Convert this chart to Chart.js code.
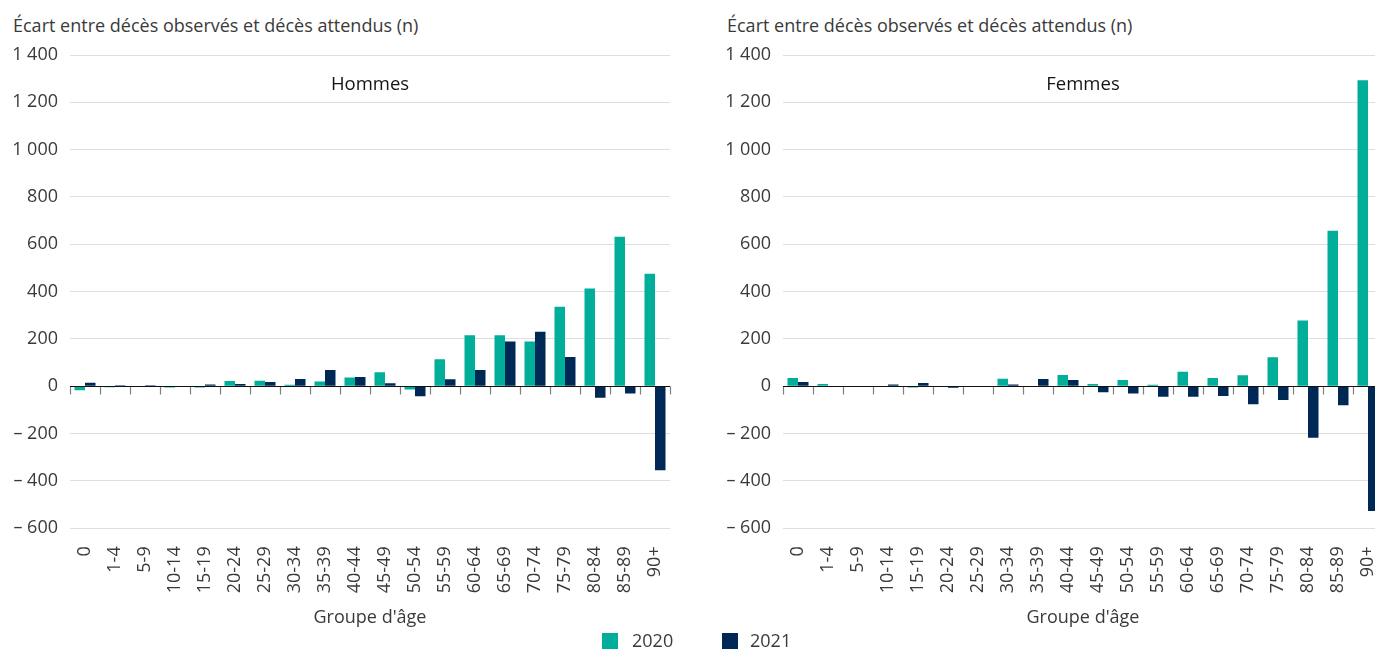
<!DOCTYPE html>
<html lang="fr">
<head>
<meta charset="utf-8">
<title>Écart entre décès observés et décès attendus</title>
<script src="https://cdn.jsdelivr.net/npm/chart.js@4/dist/chart.umd.min.js"></script>
<style>
  html, body { margin: 0; padding: 0; background: #fff; }
  body { width: 1375px; height: 650px; overflow: hidden; position: relative; font-family: 'Open Sans', sans-serif; color: #3a3a3a; }
  .ytitle { position: absolute; top: 13px; font-size: 18px; font-weight: 400; white-space: nowrap; }
  .box { position: absolute; top: 0; width: 700px; height: 630px; }
  .legend { position: absolute; top: 630px; font-size: 18px; font-weight: 400; white-space: nowrap; }
  .legend span.sw { position: absolute; top: 3px; width: 16px; height: 16px; }
  .legend span.tx { position: absolute; top: -2px; }
</style>
</head>
<body>
<div class="ytitle" style="left:13px">Écart entre décès observés et décès attendus (n)</div>
<div class="ytitle" style="left:727px">Écart entre décès observés et décès attendus (n)</div>
<div class="box" style="left:0"><canvas id="chartHommes" width="700" height="630"></canvas></div>
<div class="box" style="left:713px"><canvas id="chartFemmes" width="700" height="630"></canvas></div>
<div class="legend" id="legend"></div>

<script>
// age groups
var ageGroups = ['0','1-4','5-9','10-14','15-19','20-24','25-29','30-34','35-39','40-44',
                 '45-49','50-54','55-59','60-64','65-69','70-74','75-79','80-84','85-89','90+'];

var seriesLabels = ['2020', '2021'];

// Hommes
var hommes2020 = [-17, -4, 2, -5, -5, 22, 24, 7, 20, 37, 59, -13, 114, 216, 216, 189, 336, 413, 632, 476];
var hommes2021 = [15, 5, 5, 0, 8, 10, 18, 31, 69, 39, 13, -42, 30, 69, 189, 231, 124, -48, -30, -355];

// Femmes
var femmes2020 = [35, 10, 0, 0, -5, 0, 0, 32, 0, 48, 10, 27, 7, 61, 35, 47, 123, 278, 657, 1293];
var femmes2021 = [18, 0, 0, 8, 14, -6, 0, 8, 31, 27, -25, -30, -44, -44, -41, -76, -58, -217, -80, -527];

var yMin = -600, yMax = 1400, yStep = 200;

var colors = ['#00ae99', '#002856'];
var textColor = '#3a3a3a';
var fontFamily = "'Open Sans', sans-serif";

function fmtNumber(v) {
  var s = String(Math.abs(v)).replace(/\B(?=(\d{3})+(?!\d))/g, ' ');
  return v < 0 ? '\u2013 ' + s : s;
}

// zero line + small category ticks hanging under it
var zeroAxisPlugin = {
  id: 'zeroAxis',
  afterDatasetsDraw: function (chart) {
    var ctx = chart.ctx, x = chart.scales.x, y = chart.scales.y;
    var area = chart.chartArea;
    var y0 = Math.round(y.getPixelForValue(0)) + 0.5;
    var n = chart.data.labels.length;
    var half = (x.getPixelForValue(1) - x.getPixelForValue(0)) / 2;
    ctx.save();
    ctx.strokeStyle = '#7f7f7f';
    ctx.lineWidth = 1.2;
    for (var k = 0; k <= n; k++) {
      var px = k === 0 ? x.getPixelForValue(0) - half : x.getPixelForValue(k - 1) + half;
      px = Math.round(px) + 0.5;
      ctx.beginPath();
      ctx.moveTo(px, y0);
      ctx.lineTo(px, y0 + 8);
      ctx.stroke();
    }
    ctx.strokeStyle = '#111';
    ctx.lineWidth = 1;
    ctx.beginPath();
    ctx.moveTo(area.left, y0);
    ctx.lineTo(area.right, y0);
    ctx.stroke();
    ctx.restore();
  }
};

// panel name inside the plot, near the top
var panelTitlePlugin = {
  id: 'panelTitle',
  afterDraw: function (chart, args, opts) {
    var ctx = chart.ctx, area = chart.chartArea;
    ctx.save();
    ctx.font = '400 18.5px ' + fontFamily;
    ctx.fillStyle = '#141414';
    ctx.textAlign = 'center';
    ctx.textBaseline = 'middle';
    ctx.fillText(opts.text, (area.left + area.right) / 2, area.top + 30);
    ctx.restore();
  }
};

function makeChart(id, title, d2020, d2021) {
  var el = document.getElementById(id);
  return new Chart(el.getContext('2d'), {
    type: 'bar',
    data: {
      labels: ageGroups,
      datasets: [
        { label: seriesLabels[0], data: d2020, backgroundColor: colors[0], borderWidth: 0 },
        { label: seriesLabels[1], data: d2021, backgroundColor: colors[1], borderWidth: 0 }
      ]
    },
    plugins: [zeroAxisPlugin, panelTitlePlugin],
    options: {
      responsive: false,
      animation: false,
      datasets: { bar: { categoryPercentage: 0.7, barPercentage: 1 } },
      layout: { padding: { top: 55, right: 30, left: 0, bottom: 0 } },
      plugins: {
        legend: { display: false },
        tooltip: { enabled: false },
        panelTitle: { text: title }
      },
      scales: {
        x: {
          grid: { display: false },
          border: { display: false },
          ticks: {
            autoSkip: false, minRotation: 90, maxRotation: 90, padding: 10,
            color: textColor, font: { family: fontFamily, size: 18, weight: '400' }
          },
          title: {
            display: true, text: "Groupe d'âge", color: textColor,
            font: { family: fontFamily, size: 18, weight: '400' },
            padding: { top: 0, bottom: 1 }
          },
          afterFit: function (s) { s.height = 101.7; }
        },
        y: {
          min: yMin, max: yMax,
          grid: {
            drawTicks: false, lineWidth: 1,
            color: function (c) { return c.tick && c.tick.value === 0 ? 'rgba(0,0,0,0)' : '#dedede'; }
          },
          border: { display: false },
          ticks: {
            stepSize: yStep, padding: 12, color: textColor,
            font: { family: fontFamily, size: 18, weight: '400' },
            callback: function (v) { return fmtNumber(v); }
          },
          afterFit: function (s) { s.width = 70; }
        }
      }
    }
  });
}

function buildLegend() {
  var lg = document.getElementById('legend');
  var pos = [{ sw: 602, tx: 632 }, { sw: 722, tx: 750 }];
  seriesLabels.forEach(function (lab, i) {
    var sw = document.createElement('span');
    sw.className = 'sw';
    sw.style.left = pos[i].sw + 'px';
    sw.style.background = colors[i];
    var tx = document.createElement('span');
    tx.className = 'tx';
    tx.style.left = pos[i].tx + 'px';
    tx.textContent = lab;
    lg.appendChild(sw);
    lg.appendChild(tx);
  });
}

buildLegend();
makeChart('chartHommes', 'Hommes', hommes2020, hommes2021);
makeChart('chartFemmes', 'Femmes', femmes2020, femmes2021);
</script>
</body>
</html>
